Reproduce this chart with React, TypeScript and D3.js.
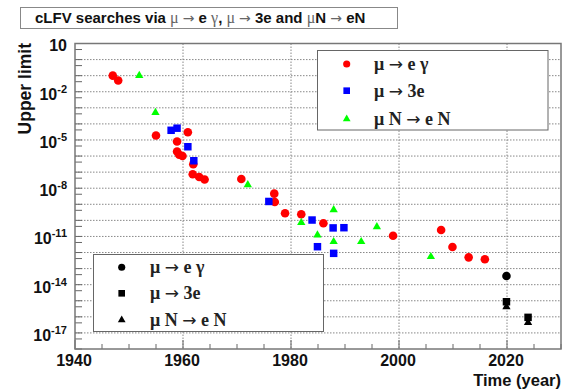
import React from "react";
import * as d3 from "d3";

// μ → e γ (red circles)
const megYears = [1947, 1948, 1955, 1958.9, 1958.9, 1959.3, 1959.9, 1960.9, 1961.9, 1961.8, 1963, 1964, 1970.8, 1976.9, 1977, 1978.9, 1981.9, 1986, 1998.9, 2007.8, 2009.9, 2012.9, 2015.9];
const megLimits = [1e-1, 5e-2, 1.9e-5, 8e-6, 1.9e-6, 1.2e-6, 1e-6, 3e-5, 3.1e-7, 7.4e-8, 5e-8, 3.5e-8, 3.7e-8, 4.6e-9, 1.4e-9, 2.8e-10, 2.4e-10, 6.6e-11, 1.1e-11, 2.5e-11, 2.2e-12, 5e-13, 3.8e-13];
// μ → 3e (blue squares)
const m3eYears = [1957.8, 1958.9, 1960.9, 1962, 1975.9, 1983.9, 1987.8, 1989.8, 1984.9, 1987.9];
const m3eLimits = [4e-5, 5.4e-5, 3.8e-6, 5.1e-7, 1.5e-9, 1.05e-10, 3.4e-11, 3.5e-11, 2.3e-12, 8.9e-13];
// μ N → e N (green triangles)
const mneYears = [1951.9, 1954.9, 1972, 1981.9, 1984.9, 1987.9, 1987.9, 1993, 1995.9, 2005.9];
const mneLimits = [1e-1, 5e-4, 1.6e-8, 7.2e-11, 1.2e-11, 4.5e-10, 4.7e-12, 4.7e-12, 4e-11, 5.5e-13];
// future sensitivities (black)
const futCircleYears = [2019.9];
const futCircleLimits = [3.5e-14];
const futSquareYears = [2019.9, 2023.9];
const futSquareLimits = [8.7e-16, 9.3e-17];
const futTriangleYears = [2019.9, 2023.9];
const futTriangleLimits = [4.2e-16, 4.4e-17];

const xMajor = [1940, 1960, 1980, 2000, 2020];
const yLabelExps = [1, -2, -5, -8, -11, -14, -17];

const W = 567, H = 392;
const L = 75, R = 561, T = 43.5, B = 349;

export default function App() {
  const x = d3.scaleLinear().domain([1940, 2030]).range([L, R]);
  const y = d3.scaleLog().domain([1e-18, 1e1]).range([B, T]);

  const circle = d3.symbol().type(d3.symbolCircle).size(58)()!;
  const square = d3.symbol().type(d3.symbolSquare).size(56)()!;
  const tri = d3.symbol().type(d3.symbolTriangle).size(30)()!;
  const lcircle = d3.symbol().type(d3.symbolCircle).size(40)()!;
  const lsquare = d3.symbol().type(d3.symbolSquare).size(44)()!;
  const ltri = d3.symbol().type(d3.symbolTriangle).size(26)()!;

  const decades = d3.range(-18, 2);
  const minorYears = d3.range(1940, 2031, 5);

  const pts = (ys: number[], vs: number[], path: string, fill: string) =>
    ys.map((yr, i) => (
      <path key={fill + path.length + i} d={path} fill={fill} transform={`translate(${x(yr)},${y(vs[i])})`} />
    ));

  const sans = "'Liberation Sans', Arial, sans-serif";
  const serif = "'Liberation Serif', 'Times New Roman', serif";
  const arrowFont = "'DejaVu Sans', sans-serif";

  const Arr = ({ size }: { size: number }) => (
    <tspan fontFamily={arrowFont} fontWeight="normal" fontSize={size}>→</tspan>
  );

  const legendText = (kind: number, tx: number, ty: number) => {
    const common = { x: tx, y: ty + 6, fontFamily: serif, fontSize: 18, fontWeight: "bold" as const, fill: "#222" };
    if (kind === 0)
      return (
        <text {...common}>
          μ <Arr size={17} /> e γ
        </text>
      );
    if (kind === 1)
      return (
        <text {...common}>
          μ <Arr size={17} /> 3e
        </text>
      );
    return (
      <text {...common}>
        μ N <Arr size={17} /> e N
      </text>
    );
  };

  const g = (s: string) => (
    <tspan fontFamily={serif} fontWeight="normal" fontSize={16} fill="#666">{s}</tspan>
  );
  const ga = () => (
    <tspan fontFamily={arrowFont} fontWeight="normal" fontSize={14} fill="#666">→</tspan>
  );

  return (
    <svg width={W} height={H} style={{ position: "absolute", left: 0, top: 0 }}>
      <rect x={0} y={0} width={W} height={H} fill="white" />
      {/* title box */}
      <rect x={20.5} y={7.5} width={377} height={21} fill="white" stroke="#888" strokeWidth={1} />
      <text x={35} y={23} fontFamily={sans} fontSize={15} fontWeight="bold" fill="#111">
        cLFV searches via {g("μ ")}{ga()}<tspan> e </tspan>{g("γ")}<tspan>, </tspan>{g("μ ")}{ga()}<tspan> 3e and </tspan>{g("μ")}<tspan>N </tspan>{ga()}<tspan> eN</tspan>
      </text>

      {/* grid */}
      {decades.slice(1, -1).map((e) => (
        <line key={"hg" + e} x1={L} x2={R} y1={y(Math.pow(10, e))} y2={y(Math.pow(10, e))} stroke="#888" strokeWidth={1} strokeDasharray="1.5,1.5" />
      ))}
      {xMajor.slice(1).map((yr) => (
        <line key={"vg" + yr} x1={x(yr)} x2={x(yr)} y1={T} y2={B} stroke="#888" strokeWidth={1} strokeDasharray="1.5,1.5" />
      ))}

      {/* ticks */}
      {decades.map((e) => (
        <g key={"yt" + e}>
          <line x1={L} x2={L + 7} y1={y(Math.pow(10, e))} y2={y(Math.pow(10, e))} stroke="#666" strokeWidth={1} />
          {e > -18 && (
            <line x1={L} x2={L + 7} y1={y(Math.pow(10, e - 0.375))} y2={y(Math.pow(10, e - 0.375))} stroke="#666" strokeWidth={1} />
          )}
        </g>
      ))}
      {minorYears.map((yr) => (
        <line key={"xt" + yr} x1={x(yr)} x2={x(yr)} y1={B} y2={B - (yr % 20 === 0 ? 9 : 5)} stroke="#666" strokeWidth={1} />
      ))}

      {/* frame */}
      <rect x={L} y={T} width={R - L} height={B - T} fill="none" stroke="#777" strokeWidth={1.5} />

      {/* tick labels */}
      {xMajor.map((yr) => (
        <text key={"xl" + yr} x={x(yr) - 1} y={366} textAnchor="middle" fontFamily={sans} fontSize={16} fontWeight="bold" fill="#111">
          {yr}
        </text>
      ))}
      {yLabelExps.map((e) =>
        e === 1 ? (
          <text key={"yl" + e} x={67} y={51} textAnchor="end" fontFamily={sans} fontSize={16} fontWeight="bold" fill="#111">
            10
          </text>
        ) : (
          <text key={"yl" + e} x={67} y={y(Math.pow(10, e)) + 8} textAnchor="end" fontFamily={sans} fontSize={16} fontWeight="bold" fill="#111">
            10
            <tspan dy={-7} fontSize={11}>
              {e}
            </tspan>
          </text>
        )
      )}

      {/* axis titles */}
      <text transform="translate(31,43) rotate(-90)" textAnchor="end" fontFamily={sans} fontSize={17.5} fontWeight="bold" fill="#111">
        Upper limit
      </text>
      <text x={561} y={385.5} textAnchor="end" fontFamily={sans} fontSize={16.5} fontWeight="bold" fill="#111">
        Time (year)
      </text>

      {/* data */}
      {pts(megYears, megLimits, circle, "#ff0000")}
      {pts(m3eYears, m3eLimits, square, "#0000ff")}
      {pts(mneYears, mneLimits, tri, "#00ff00")}
      {pts(futSquareYears, futSquareLimits, square, "#000")}
      {pts(futTriangleYears, futTriangleLimits, tri, "#000")}
      {pts(futCircleYears, futCircleLimits, circle, "#000")}

      {/* legend 1 */}
      <rect x={317.5} y={50.5} width={230.5} height={79.5} fill="white" stroke="#666" strokeWidth={1} />
      <path d={lcircle} fill="#ff0000" transform="translate(346.7,64)" />
      <path d={lsquare} fill="#0000ff" transform="translate(346.7,90.7)" />
      <path d={ltri} fill="#00ff00" transform="translate(346.7,119)" />
      {legendText(0, 374, 64)}
      {legendText(1, 374, 91)}
      {legendText(2, 374, 119)}

      {/* legend 2 */}
      <rect x={93.5} y={254.5} width={230} height={77} fill="white" stroke="#666" strokeWidth={1} />
      <path d={lcircle} fill="#000" transform="translate(121.7,267.3)" />
      <path d={lsquare} fill="#000" transform="translate(121.7,293.3)" />
      <path d={ltri} fill="#000" transform="translate(121.7,320)" />
      {legendText(0, 150, 267.3)}
      {legendText(1, 150, 293.3)}
      {legendText(2, 150, 320)}
    </svg>
  );
}
